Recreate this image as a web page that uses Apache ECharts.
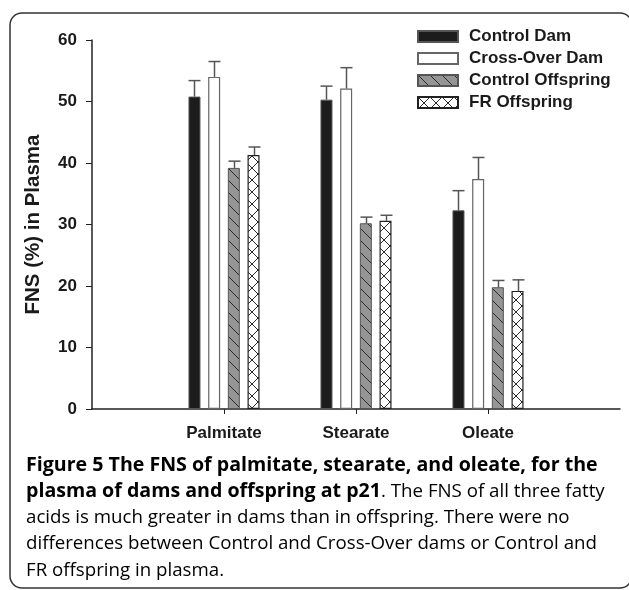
<!DOCTYPE html>
<html>
<head>
<meta charset="utf-8">
<script src="https://cdn.jsdelivr.net/npm/echarts@6/dist/echarts.min.js"></script>
<style>
    html, body { margin: 0; padding: 0; background: #fff; }
    #grafico { width: 629px; height: 590px; }
</style>
</head>
<body>
<div id="grafico"></div>
<script>
// Datos
const categorias = ['Palmitate', 'Stearate', 'Oleate'];
const series = ['Control Dam', 'Cross-Over Dam', 'Control Offspring', 'FR Offspring'];
const controlDam = [50.8, 50.3, 32.3];
const controlDamErr = [53.4, 52.5, 35.5];
const crossOverDam = [54.0, 52.1, 37.4];
const crossOverDamErr = [56.5, 55.5, 40.9];
const controlOffspring = [39.2, 30.2, 19.8];
const controlOffspringErr = [40.3, 31.2, 20.9];
const frOffspring = [41.3, 30.6, 19.2];
const frOffspringErr = [42.6, 31.5, 21.0];
const ticksY = [0, 10, 20, 30, 40, 50, 60];

const ANCHO_BARRA = 12;
const HUECO = 0.64;
const FUENTE = 'Liberation Sans, Arial, sans-serif';

// Patrones de relleno (rayado y cuadriculado)
function trama(fondo, diagonales) {
    const c = document.createElement('canvas');
    c.width = 12; c.height = 12;
    const ctx = c.getContext('2d');
    ctx.fillStyle = fondo;
    ctx.fillRect(0, 0, 12, 12);
    ctx.strokeStyle = '#2a2a2a';
    ctx.lineWidth = 1;
    diagonales.forEach(([x1, y1, x2, y2]) => {
        ctx.beginPath();
        ctx.moveTo(x1, y1);
        ctx.lineTo(x2, y2);
        ctx.stroke();
    });
    return {image: c, repeat: 'repeat'};
}
const rayado = trama('#959595', [[-1, -1, 13, 13], [-1, 11, 1, 13], [11, -1, 13, 1]]);
const cruzado = trama('#ffffff', [[-1, -1, 13, 13], [13, -1, -1, 13]]);

// Eje con huecos a los lados
const ejeX = [''].concat(categorias, ['']);
const relleno = arr => ['-'].concat(arr, ['-']);

const estilos = [
    {color: '#1c1c1c', borderColor: '#555', borderWidth: 1},
    {color: '#ffffff', borderColor: '#666', borderWidth: 1.2},
    {color: rayado, borderColor: '#555', borderWidth: 1},
    {color: cruzado, borderColor: '#222', borderWidth: 1.2}
];
const valores = [controlDam, crossOverDam, controlOffspring, frOffspring];
const errores = [controlDamErr, crossOverDamErr, controlOffspringErr, frOffspringErr];

const seriesBarras = series.map((nombre, i) => ({
    name: nombre,
    type: 'bar',
    barWidth: ANCHO_BARRA,
    barGap: (HUECO * 100) + '%',
    data: relleno(valores[i]),
    itemStyle: estilos[i],
    z: 2
}));

const seriesError = series.map((nombre, i) => ({
    name: nombre + ' err',
    type: 'custom',
    z: 3,
    data: categorias.map((c, j) => [j + 1, valores[i][j], errores[i][j]]),
    renderItem: (params, api) => {
        const desplaz = (i - 1.5) * ANCHO_BARRA * (1 + HUECO);
        const base = api.coord([api.value(0), api.value(1)]);
        const tope = api.coord([api.value(0), api.value(2)]);
        const x = Math.round(base[0] + desplaz) + 0.5;
        const estilo = {stroke: '#555', lineWidth: 1.5};
        return {
            type: 'group',
            children: [
                {type: 'line', shape: {x1: x, y1: base[1], x2: x, y2: tope[1]}, style: estilo},
                {type: 'line', shape: {x1: x - ANCHO_BARRA / 2, y1: tope[1], x2: x + ANCHO_BARRA / 2, y2: tope[1]}, style: estilo}
            ]
        };
    }
}));

const chart = echarts.init(document.getElementById('grafico'));

const option = {
    animation: false,
    backgroundColor: '#fff',
    grid: {left: 92, right: 9, top: 40, bottom: 181},
    legend: {
        data: series,
        orient: 'vertical',
        left: 417,
        top: 28,
        padding: 0,
        icon: 'rect',
        itemWidth: 40,
        itemHeight: 11,
        itemGap: 5,
        selectedMode: false,
        textStyle: {
            fontFamily: FUENTE,
            fontWeight: 'bold',
            fontSize: 17,
            color: '#1a1a1a',
            padding: [0, 0, 0, 6]
        }
    },
    xAxis: {
        type: 'category',
        data: ejeX,
        boundaryGap: false,
        axisLine: {lineStyle: {color: '#222', width: 1.5}},
        axisTick: {
            interval: (idx, val) => val !== '',
            length: 5,
            lineStyle: {color: '#222'}
        },
        axisLabel: {
            interval: 0,
            margin: 16,
            fontFamily: FUENTE,
            fontWeight: 'bold',
            fontSize: 17,
            color: '#1a1a1a'
        }
    },
    yAxis: {
        type: 'value',
        min: ticksY[0],
        max: ticksY[ticksY.length - 1],
        interval: ticksY[1] - ticksY[0],
        name: 'FNS (%) in Plasma',
        nameLocation: 'middle',
        nameGap: 48,
        nameTextStyle: {
            fontFamily: FUENTE,
            fontWeight: 'bold',
            fontSize: 20.5,
            color: '#1a1a1a'
        },
        splitLine: {show: false},
        axisLine: {show: true, lineStyle: {color: '#222', width: 1.5}},
        axisTick: {show: true, length: 6, lineStyle: {color: '#222'}},
        axisLabel: {
            margin: 15,
            fontFamily: FUENTE,
            fontWeight: 'bold',
            fontSize: 17,
            color: '#1a1a1a'
        }
    },
    graphic: [
        {
            type: 'rect',
            shape: {x: 10, y: 13, width: 622, height: 575, r: 12},
            style: {fill: 'none', stroke: '#333', lineWidth: 1.5},
            silent: true
        },
        {
            type: 'text',
            left: 26,
            top: 455,
            style: {
                text: '{b|Figure 5 The FNS of palmitate, stearate, and oleate, for the}\n' +
                    '{b|plasma of dams and offspring at p21}{n|. The FNS of all three fatty}\n' +
                    '{n|acids is much greater in dams than in offspring. There were no}\n' +
                    '{n|differences between Control and Cross-Over dams or Control and}\n' +
                    '{n|FR offspring in plasma.}',
                rich: {
                    b: {fontFamily: 'Open Sans, sans-serif', fontWeight: 'bold', fontSize: 19.6, lineHeight: 26.3, color: '#1a1a1a'},
                    n: {fontFamily: 'Open Sans, sans-serif', fontWeight: 'normal', fontSize: 18.7, lineHeight: 26.3, color: '#333'}
                }
            }
        }
    ],
    series: seriesBarras.concat(seriesError)
};

chart.setOption(option);
window.addEventListener('resize', () => chart.resize());
</script>
</body>
</html>
